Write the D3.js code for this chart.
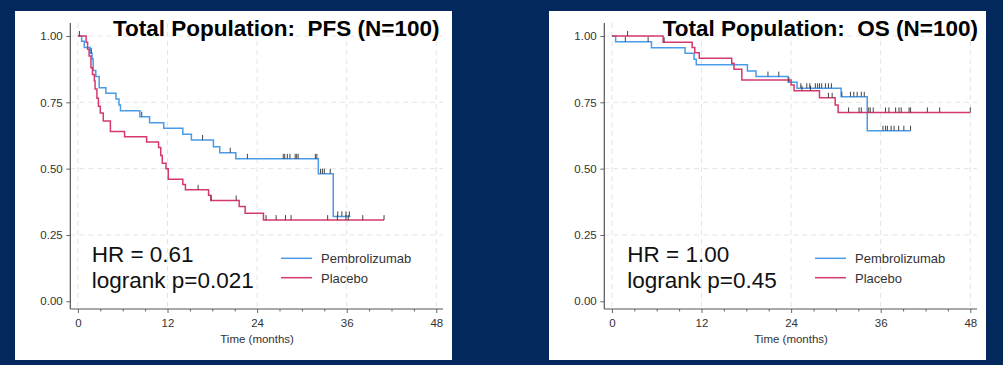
<!DOCTYPE html>
<html>
<head>
<meta charset="utf-8">
<script src="https://cdn.jsdelivr.net/npm/d3@7"></script>
<style>
  html, body { margin: 0; padding: 0; background: #02285c; }
  svg { display: block; font-family: "Liberation Sans", Arial, sans-serif; }
</style>
</head>
<body>
<svg id="chart" width="1003" height="365"></svg>
<script>
// ---------- data ----------
const xTicks = [0, 12, 24, 36, 48];
const xMinorTicks = [3, 6, 9, 15, 18, 21, 27, 30, 33, 39, 42, 45];
const yTicks = [0, 0.25, 0.5, 0.75, 1.0];
const seriesNames = ["Pembrolizumab", "Placebo"];

// PFS panel
const pfsPembroTimes = [0, 0.5, 0.85, 1.65, 1.9, 2.05, 2.4, 2.85, 3.75, 5.1, 5.5, 5.7, 8.3, 9.6, 11.5, 14.05, 15.2, 18.15, 19.0, 21.15, 32.2, 34.2, 36.5];
const pfsPembroSurv  = [1.0, 0.98, 0.957, 0.935, 0.913, 0.87, 0.847, 0.805, 0.784, 0.763, 0.74, 0.718, 0.696, 0.673, 0.652, 0.63, 0.608, 0.583, 0.56, 0.537, 0.481, 0.32, 0.32];
const pfsPembroCens  = [0.2, 1.8, 8.55, 16.7, 20.4, 22.7, 27.5, 27.7, 28.05, 28.4, 29.1, 29.3, 29.5, 31.8, 32.0, 32.5, 32.75, 33.0, 33.8, 34.8, 35.35, 35.9, 36.35];

const pfsPlaceboTimes = [0, 1.1, 1.3, 1.5, 1.75, 1.95, 2.2, 2.3, 2.55, 2.75, 3.0, 3.4, 4.35, 6.25, 9.2, 10.8, 11.1, 11.3, 11.8, 12.1, 14.05, 14.4, 17.5, 17.8, 21.6, 22.4, 24.85, 41.0];
const pfsPlaceboSurv  = [1.0, 0.976, 0.95, 0.925, 0.88, 0.855, 0.83, 0.80, 0.765, 0.735, 0.71, 0.68, 0.64, 0.62, 0.60, 0.58, 0.55, 0.52, 0.50, 0.46, 0.44, 0.42, 0.40, 0.38, 0.357, 0.332, 0.306, 0.306];
const pfsPlaceboCens  = [16.1, 17.85, 21.2, 25.2, 26.55, 27.8, 28.55, 33.45, 34.75, 35.9, 36.2, 38.15, 41.0];

// OS panel
const osPembroTimes = [0, 0.5, 5.3, 9.8, 11.0, 11.3, 18.15, 19.3, 23.6, 24.8, 30.7, 34.2, 40.0];
const osPembroSurv  = [1.0, 0.978, 0.956, 0.935, 0.912, 0.892, 0.868, 0.847, 0.826, 0.803, 0.771, 0.643, 0.643];
const osPembroCens  = [1.8, 4.85, 20.9, 22.35, 23.7, 25.3, 26.1, 26.5, 27.25, 27.55, 27.8, 28.1, 28.6, 29.0, 29.4, 30.8, 31.95, 32.4, 32.85, 33.4, 33.8, 36.3, 36.65, 36.9, 37.4, 37.8, 38.4, 39.1, 40.0];

const osPlaceboTimes = [0, 6.86, 10.75, 11.1, 11.7, 16.05, 16.35, 17.4, 24.0, 24.4, 27.8, 29.9, 30.3, 48.0];
const osPlaceboSurv  = [1.0, 0.976, 0.957, 0.937, 0.916, 0.897, 0.875, 0.834, 0.815, 0.794, 0.767, 0.74, 0.712, 0.712];
const osPlaceboCens  = [2.1, 7.0, 25.45, 26.6, 29.0, 29.5, 31.7, 33.1, 33.4, 34.4, 34.6, 35.0, 36.65, 37.1, 38.0, 38.45, 38.75, 39.8, 40.0, 42.25, 43.9, 48.0];

const panelTitles = ["Total Population:  PFS (N=100)", "Total Population:  OS (N=100)"];
const hrLabels = ["HR = 0.61", "HR = 1.00"];
const pLabels = ["logrank p=0.021", "logrank p=0.45"];
const xAxisLabel = "Time (months)";

// ---------- drawing ----------
const colors = { pembro: "#4a9be8", placebo: "#d5386c" };
const svg = d3.select("#chart");
svg.append("rect").attr("width", 1003).attr("height", 365).attr("fill", "#02285c");

const panels = [
  { box: 15, title: panelTitles[0], titleX: 113, hr: hrLabels[0], p: pLabels[0], hrX: 91.7,
    series: [
      { t: pfsPembroTimes, s: pfsPembroSurv, c: pfsPembroCens, color: colors.pembro },
      { t: pfsPlaceboTimes, s: pfsPlaceboSurv, c: pfsPlaceboCens, color: colors.placebo }
    ] },
  { box: 549, title: panelTitles[1], titleX: 662.7, hr: hrLabels[1], p: pLabels[1], hrX: 627.3,
    series: [
      { t: osPembroTimes, s: osPembroSurv, c: osPembroCens, color: colors.pembro },
      { t: osPlaceboTimes, s: osPlaceboSurv, c: osPlaceboCens, color: colors.placebo }
    ] }
];

function survAt(ts, ss, t) {
  let v = ss[0];
  for (let i = 0; i < ts.length; i++) { if (ts[i] <= t) v = ss[i]; }
  return v;
}

panels.forEach(P => {
  const g = svg.append("g");
  const bx = P.box;
  g.append("rect").attr("x", bx).attr("y", 11).attr("width", 437).attr("height", 349).attr("fill", "#ffffff");

  const axX = bx + 55.3;           // y-axis line position
  const axY = 309;                 // x-axis line position
  const x = d3.scaleLinear().domain([0, 48]).range([bx + 62.9, bx + 421.3]);
  const y = d3.scaleLinear().domain([0, 1]).range([301.3, 36]);
  const xEnd = bx + 428;

  // gridlines
  const grid = g.append("g").attr("stroke", "#e4e4e4").attr("stroke-width", 1).attr("stroke-dasharray", "5,4");
  grid.selectAll("line.v").data(xTicks).join("line")
    .attr("x1", d => x(d)).attr("x2", d => x(d)).attr("y1", 23).attr("y2", axY);
  grid.selectAll("line.h").data(yTicks.filter(d => d > 0)).join("line")
    .attr("x1", axX).attr("x2", xEnd).attr("y1", d => y(d)).attr("y2", d => y(d));

  // axes
  const yAxis = d3.axisLeft(y).tickValues(yTicks).tickFormat(d3.format(".2f")).tickSize(4).tickPadding(3.6);
  const ya = g.append("g").attr("transform", `translate(${axX},0)`).call(yAxis);
  ya.select(".domain").remove();
  const xAxis = d3.axisBottom(x).tickValues(xTicks).tickFormat(d3.format("d")).tickSize(4).tickPadding(5.5);
  const xa = g.append("g").attr("transform", `translate(0,${axY})`).call(xAxis);
  xa.select(".domain").remove();
  const xMinor = d3.axisBottom(x).tickValues(xMinorTicks).tickFormat("").tickSize(2.5);
  const xm = g.append("g").attr("transform", `translate(0,${axY})`).call(xMinor);
  xm.select(".domain").remove();
  [ya, xa, xm].forEach(a => {
    a.selectAll("line").attr("stroke", "#666");
    a.selectAll("text").attr("fill", "#333").style("font-size", "11.5px").style("font-family", "Liberation Sans, Arial, sans-serif");
  });
  g.append("line").attr("x1", axX).attr("x2", axX).attr("y1", 23).attr("y2", axY).attr("stroke", "#555").attr("stroke-width", 1.2);
  g.append("line").attr("x1", axX).attr("x2", xEnd).attr("y1", axY).attr("y2", axY).attr("stroke", "#555").attr("stroke-width", 1.2);

  g.append("text").attr("x", (x(0) + x(48)) / 2).attr("y", 342.7).attr("text-anchor", "middle")
    .attr("fill", "#333").style("font-size", "11.5px").text(xAxisLabel);

  // curves
  const line = d3.line().x(d => x(d[0])).y(d => y(d[1])).curve(d3.curveStepAfter);
  P.series.forEach(S => {
    const pts = S.t.map((t, i) => [t, S.s[i]]);
    g.append("path").attr("d", line(pts)).attr("fill", "none")
      .attr("stroke", S.color).attr("stroke-width", 1.5);
  });
  P.series.forEach(S => {
    g.selectAll(null).data(S.c).join("line")
      .attr("x1", d => x(d)).attr("x2", d => x(d))
      .attr("y1", d => y(survAt(S.t, S.s, d)))
      .attr("y2", d => y(survAt(S.t, S.s, d)) - 5)
      .attr("stroke", "#444").attr("stroke-width", 1);
  });

  // title
  g.append("text").attr("x", P.titleX).attr("y", 36).attr("fill", "#000")
    .style("font-size", "22.5px").style("font-weight", "bold").style("white-space", "pre")
    .attr("xml:space", "preserve").text(P.title);

  // HR text
  g.append("text").attr("x", P.hrX).attr("y", 261.7).attr("fill", "#111").style("font-size", "22.5px").text(P.hr);
  g.append("text").attr("x", P.hrX).attr("y", 288).attr("fill", "#111").style("font-size", "22.5px").text(P.p);

  // legend
  const lx = bx + 266;
  const legY = [258.3, 277.7];
  [colors.pembro, colors.placebo].forEach((c, i) => {
    g.append("line").attr("x1", lx).attr("x2", lx + 31).attr("y1", legY[i]).attr("y2", legY[i])
      .attr("stroke", c).attr("stroke-width", 1.5);
    g.append("text").attr("x", lx + 40).attr("y", legY[i] + 4.8).attr("fill", "#333")
      .style("font-size", "13px").text(seriesNames[i]);
  });
});
</script>
</body>
</html>
